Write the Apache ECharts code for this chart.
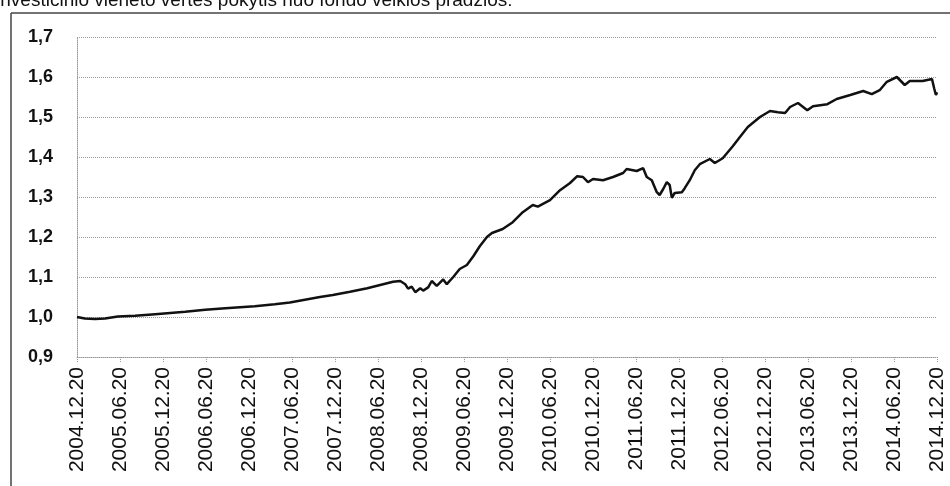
<!DOCTYPE html>
<html>
<head>
<meta charset="utf-8">
<script src="https://cdn.jsdelivr.net/npm/echarts@6/dist/echarts.min.js"></script>
<style>
html,body{margin:0;padding:0;background:#fff;}
#chart{width:950px;height:486px;}
</style>
</head>
<body>
<div id="chart"></div>
<script>
var titleText = 'Investicinio vieneto vertės pokytis nuo fondo veiklos pradžios:';
var xTickLabels = ['2004.12.20','2005.06.20','2005.12.20','2006.06.20','2006.12.20','2007.06.20','2007.12.20','2008.06.20','2008.12.20','2009.06.20','2009.12.20','2010.06.20','2010.12.20','2011.06.20','2011.12.20','2012.06.20','2012.12.20','2013.06.20','2013.12.20','2014.06.20','2014.12.20'];
// months since 2004.12.20
var months = [0,1.1,2.5,3.9,5.7,8.1,10.9,13.0,15.1,17.9,20.7,24.8,27.6,29.7,31.8,33.9,35.7,38.1,40.5,42.3,44.1,45.1,45.8,46.2,46.7,47.2,47.9,48.3,49.0,49.5,50.2,51.1,51.6,52.5,53.4,54.4,55.3,56.2,57.2,57.9,59.4,60.8,62.2,63.6,64.3,66.0,67.4,68.8,69.8,70.6,71.3,72.0,73.4,74.8,76.2,76.7,78.1,79.0,79.5,80.2,80.9,81.3,81.8,82.3,82.7,83.0,83.4,84.4,84.8,85.5,86.2,86.9,88.3,89.0,90.1,91.5,92.5,93.6,95.3,96.7,97.8,98.8,99.5,100.6,101.9,102.7,104.7,106.0,107.9,109.7,110.9,112.0,113.0,114.4,115.5,116.2,118.0,119.3,119.6,119.85,120];
var values = [1.000,0.996,0.995,0.996,1.001,1.003,1.007,1.010,1.013,1.018,1.022,1.027,1.032,1.036,1.043,1.050,1.055,1.063,1.072,1.080,1.088,1.090,1.082,1.071,1.076,1.062,1.072,1.066,1.074,1.090,1.078,1.094,1.082,1.100,1.120,1.130,1.152,1.177,1.200,1.210,1.220,1.237,1.262,1.280,1.276,1.292,1.317,1.335,1.352,1.350,1.337,1.345,1.342,1.350,1.360,1.370,1.365,1.372,1.350,1.342,1.312,1.305,1.320,1.337,1.330,1.298,1.310,1.312,1.322,1.342,1.367,1.382,1.395,1.385,1.397,1.427,1.450,1.475,1.500,1.515,1.512,1.510,1.525,1.535,1.517,1.527,1.532,1.545,1.555,1.565,1.557,1.567,1.588,1.600,1.580,1.590,1.590,1.595,1.572,1.555,1.562];

var seriesData = months.map(function(m,i){return [m, values[i]];});
var chart = echarts.init(document.getElementById('chart'), null, {renderer:'canvas'});
var gridStyle = {color:'#9a9a9a', type:'dotted', width:1};
chart.setOption({
  animation:false,
  backgroundColor:'#fff',
  grid:{left:77, right:13, top:37, bottom:129, containLabel:false},
  xAxis:{
    type:'value', min:0, max:120, interval:6,
    axisLine:{show:true, lineStyle:gridStyle},
    axisTick:{show:true, length:6, lineStyle:gridStyle},
    splitLine:{show:false},
    axisLabel:{
      rotate:90, margin:10, color:'#111',
      fontFamily:'Liberation Sans', fontSize:21,
      formatter:function(v){return xTickLabels[Math.round(v/6)] || '';}
    }
  },
  yAxis:{
    type:'value', min:0.9, max:1.7, interval:0.1,
    axisLine:{show:true, lineStyle:gridStyle},
    axisTick:{show:false},
    splitLine:{show:true, lineStyle:gridStyle},
    axisLabel:{
      margin:24, color:'#111', fontFamily:'Liberation Sans', fontWeight:'bold', fontSize:18,
      formatter:function(v){return v.toFixed(1).replace('.', ',');}
    }
  },
  graphic:[
    {type:'text', x:-5, y:-9, style:{text:titleText, fontSize:19, fontFamily:'Liberation Sans', fill:'#111', verticalAlign:'top', align:'left'}},
    {type:'line', shape:{x1:11, y1:13, x2:950, y2:13}, style:{stroke:'#444', lineWidth:1.5}},
    {type:'line', shape:{x1:11, y1:13, x2:11, y2:486}, style:{stroke:'#444', lineWidth:1.5}}
  ],
  series:[{
    type:'line', data:seriesData, showSymbol:false, symbol:'none',
    lineStyle:{color:'#111', width:2.5}, smooth:false
  }]
});
</script>
</body>
</html>
